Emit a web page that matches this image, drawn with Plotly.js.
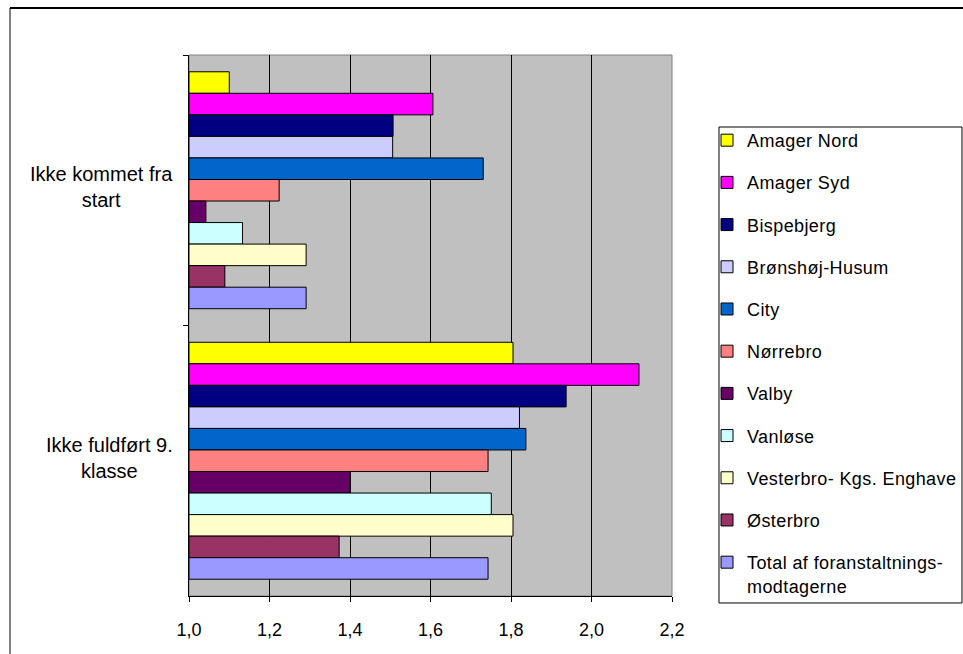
<!DOCTYPE html>
<html>
<head>
<meta charset="utf-8">
<script src="https://cdn.plot.ly/plotly-3.0.1.min.js"></script>
<style>html,body{margin:0;padding:0;background:#fff;}#chart{width:963px;height:654px;}
.legendtext{letter-spacing:0.4px;}</style>
</head>
<body>
<div id="chart"></div>
<script>
var categories = ["Ikke kommet fra start", "Ikke fuldført 9. klasse"];
var categoryLabels = ["Ikke kommet fra<br>start", "Ikke fuldført 9.<br>klasse"];
var seriesNames = ["Amager Nord", "Amager Syd", "Bispebjerg", "Brønshøj-Husum", "City", "Nørrebro", "Valby", "Vanløse", "Vesterbro- Kgs. Enghave", "Østerbro", "Total af foranstaltnings-<br>modtagerne"];
var amagerNord = [1.10, 1.805];
var amagerSyd = [1.606, 2.118];
var bispebjerg = [1.507, 1.937];
var bronshoj = [1.506, 1.821];
var city = [1.731, 1.837];
var norrebro = [1.224, 1.743];
var valby = [1.042, 1.400];
var vanlose = [1.133, 1.751];
var vesterbro = [1.291, 1.805];
var osterbro = [1.089, 1.373];
var total = [1.291, 1.743];
var seriesValues = [amagerNord, amagerSyd, bispebjerg, bronshoj, city, norrebro, valby, vanlose, vesterbro, osterbro, total];
var colors = ["#FFFF00", "#FF00FF", "#000080", "#CCCCFF", "#0066CC", "#FF8080", "#660066", "#CCFFFF", "#FFFFCC", "#993366", "#9999FF"];
var tickVals = [1.0, 1.2, 1.4, 1.6, 1.8, 2.0, 2.2];
var tickText = ["1,0", "1,2", "1,4", "1,6", "1,8", "2,0", "2,2"];

var FONT = "Liberation Sans, Arial, sans-serif";
var traces = seriesNames.map(function (name, i) {
  return {
    type: "bar",
    orientation: "h",
    name: name,
    y: categories,
    x: seriesValues[i].map(function (v) { return v - 1.0; }),
    base: 1.0,
    legendgroup: "g" + i,
    marker: { color: colors[i], line: { color: "#000", width: 1 } },
    hoverinfo: "x+name"
  };
});

var annotations = categories.map(function (c, i) {
  return {
    xref: "paper", yref: "y", x: -0.03, y: c,
    text: categoryLabels[i], showarrow: false,
    xanchor: "right", yanchor: "middle", align: "center",
    yshift: 3,
    font: { family: FONT, size: 20, color: "#000" }
  };
});

var layout = {
  width: 963, height: 654,
  margin: { l: 189, r: 291, t: 55, b: 58, pad: 0, autoexpand: false },
  paper_bgcolor: "#fff",
  plot_bgcolor: "#C0C0C0",
  barmode: "group",
  bargap: 0.124,
  bargroupgap: 0,
  showlegend: true,
  font: { family: FONT, size: 18, color: "#000" },
  xaxis: {
    range: [1.0, 2.2],
    tickvals: tickVals, ticktext: tickText,
    showgrid: true, gridcolor: "#000", gridwidth: 1,
    zeroline: false,
    showline: true, linecolor: "#000", linewidth: 1,
    ticks: "outside", ticklen: 5, tickcolor: "#000",
    ticklabelstandoff: 12,
    tickfont: { family: FONT, size: 18, color: "#000" },
    fixedrange: true
  },
  yaxis: {
    type: "category",
    categoryorder: "array", categoryarray: categories,
    autorange: "reversed",
    showticklabels: false,
    showgrid: false, zeroline: false,
    showline: true, linecolor: "#000", linewidth: 1,
    ticks: "outside", tickson: "boundaries", ticklen: 5, tickcolor: "#000",
    fixedrange: true
  },
  legend: {
    x: 1.0725, y: 0.8762, xanchor: "left", yanchor: "top",
    bgcolor: "rgba(0,0,0,0)", borderwidth: 0,
    traceorder: "grouped", tracegroupgap: 15.8,
    valign: "top", itemwidth: 30,
    font: { family: FONT, size: 18, color: "#000" }
  },
  annotations: annotations,
  shapes: [
    { type: "rect", xref: "paper", yref: "paper", x0: 0, x1: 1, y0: 0, y1: 1,
      line: { color: "#808080", width: 1 }, fillcolor: "rgba(0,0,0,0)", layer: "below" },
    { type: "rect", xref: "paper", yref: "paper", x0: 1.0973, x1: 1.6004, y0: -0.0129, y1: 0.8669,
      line: { color: "#000", width: 1 }, fillcolor: "#fff", layer: "below" },
    { type: "line", xref: "paper", yref: "paper", x0: -0.3706, x1: 1.7, y0: 1.0869, y1: 1.0869,
      line: { color: "#000", width: 2 } },
    { type: "line", xref: "paper", yref: "paper", x0: -0.3706, x1: -0.3706, y0: 1.0869, y1: -0.2,
      line: { color: "#000", width: 1 } }
  ]
};

Plotly.newPlot("chart", traces, layout, { displayModeBar: false, staticPlot: true });
</script>
</body>
</html>
